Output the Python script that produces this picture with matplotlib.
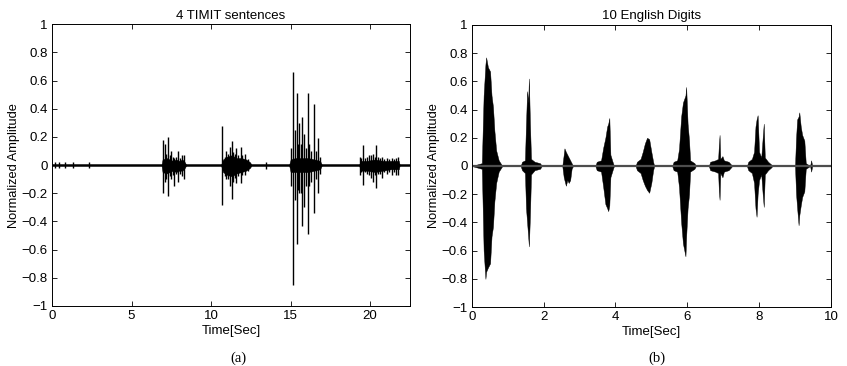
import matplotlib
matplotlib.use("Agg")
import matplotlib.pyplot as plt

plt.rcParams["font.family"] = ["Liberation Sans", "DejaVu Sans"]

# --- (a) 4 TIMIT sentences: envelope of the dense part of each burst ---
timit_t = [0.0, 6.88, 6.95, 7.2, 7.4, 7.6, 7.8, 8.0, 8.2, 8.35, 8.45,
           10.62, 10.75, 11.0, 11.3, 11.6, 11.9, 12.2, 12.45, 12.55,
           14.9, 15.0, 15.3, 15.7, 16.1, 16.5, 16.85, 16.97,
           19.3, 19.4, 19.8, 20.3, 20.8, 21.3, 21.8, 21.86, 22.5]
timit_hi = [0, 0, 0.04, 0.05, 0.04, 0.03, 0.04, 0.03, 0.04, 0.02, 0,
            0, 0.04, 0.06, 0.07, 0.05, 0.05, 0.04, 0.02, 0,
            0, 0.04, 0.05, 0.05, 0.05, 0.04, 0.03, 0,
            0, 0.03, 0.03, 0.04, 0.03, 0.03, 0.03, 0, 0]
timit_lo = [0, 0, -0.05, -0.06, -0.05, -0.04, -0.05, -0.04, -0.04, -0.02, 0,
            0, -0.05, -0.07, -0.08, -0.06, -0.05, -0.04, -0.02, 0,
            0, -0.05, -0.05, -0.05, -0.05, -0.04, -0.03, 0,
            0, -0.04, -0.04, -0.05, -0.04, -0.03, -0.03, 0, 0]

# individual peaks (time, top, bottom)
spike_t = [0.2, 0.45, 0.8, 1.35, 2.3,
           6.98, 7.08, 7.18, 7.29, 7.4, 7.5, 7.6, 7.67, 7.8, 7.92, 8.05, 8.18, 8.3,
           10.68, 10.85, 10.95, 11.05, 11.16, 11.3, 11.4, 11.5, 11.58, 11.7, 11.85,
           11.97, 12.13, 12.3, 13.48,
           15.02, 15.13, 15.25, 15.38, 15.47, 15.55, 15.64, 15.72, 15.86, 15.96, 16.07,
           16.17, 16.3, 16.45, 16.6, 16.74, 16.85,
           19.34, 19.45, 19.56, 19.7, 19.83, 19.95, 20.08, 20.2, 20.28, 20.36, 20.5,
           20.62, 20.74, 20.9, 21.06, 21.2, 21.35, 21.5, 21.63, 21.78]
spike_hi = [0.02, 0.02, 0.02, 0.02, 0.02,
            0.18, 0.15, 0.08, 0.20, 0.07, 0.10, 0.06, 0.05, 0.06, 0.10, 0.05, 0.07, 0.07,
            0.28, 0.06, 0.10, 0.08, 0.13, 0.17, 0.09, 0.08, 0.12, 0.07, 0.13,
            0.07, 0.08, 0.04, 0.025,
            0.12, 0.66, 0.25, 0.51, 0.15, 0.30, 0.15, 0.34, 0.22, 0.12, 0.51,
            0.15, 0.10, 0.43, 0.10, 0.19, 0.06,
            0.06, 0.05, 0.14, 0.05, 0.06, 0.07, 0.07, 0.08, 0.06, 0.14, 0.06,
            0.05, 0.06, 0.04, 0.05, 0.04, 0.05, 0.04, 0.05, 0.06]
spike_lo = [-0.02, -0.02, -0.02, -0.02, -0.02,
            -0.20, -0.12, -0.10, -0.22, -0.08, -0.10, -0.07, -0.15, -0.06, -0.12, -0.06, -0.08, -0.10,
            -0.28, -0.08, -0.10, -0.10, -0.15, -0.24, -0.12, -0.09, -0.13, -0.08, -0.13,
            -0.07, -0.07, -0.04, -0.025,
            -0.15, -0.85, -0.25, -0.56, -0.18, -0.20, -0.20, -0.43, -0.30, -0.15, -0.49,
            -0.15, -0.12, -0.34, -0.10, -0.20, -0.06,
            -0.07, -0.05, -0.14, -0.05, -0.06, -0.07, -0.09, -0.12, -0.07, -0.16, -0.06,
            -0.06, -0.09, -0.05, -0.06, -0.05, -0.07, -0.05, -0.07, -0.07]

# --- (b) 10 English digits: envelope ---
digit_t = [0.0, 0.28, 0.33, 0.38, 0.40, 0.45, 0.51, 0.55, 0.59, 0.63, 0.68, 0.75, 0.80, 0.85,
           1.36, 1.40, 1.48, 1.51, 1.54, 1.57, 1.59, 1.62, 1.65, 1.75, 1.90, 1.95,
           2.52, 2.56, 2.58, 2.62, 2.66, 2.70, 2.74, 2.78, 2.82,
           3.44, 3.48, 3.60, 3.66, 3.72, 3.77, 3.80, 3.83, 3.86, 3.92, 3.96,
           4.56, 4.60, 4.70, 4.76, 4.82, 4.88, 4.94, 5.00, 5.05, 5.08,
           5.58, 5.62, 5.72, 5.77, 5.83, 5.88, 5.95, 5.97, 6.01, 6.05, 6.08, 6.20, 6.24,
           6.60, 6.64, 6.78, 6.86, 6.88, 6.90, 6.92, 6.98, 7.02, 7.15, 7.22, 7.25,
           7.66, 7.70, 7.80, 7.86, 7.90, 7.93, 7.96, 8.00, 8.06, 8.10, 8.13, 8.16, 8.25, 8.34, 8.37,
           9.00, 9.03, 9.06, 9.10, 9.12, 9.16, 9.20, 9.26, 9.30, 9.42, 9.45, 9.48, 10.0]
digit_hi = [0, 0.02, 0.50, 0.72, 0.77, 0.70, 0.67, 0.50, 0.42, 0.25, 0.11, 0.04, 0.02, 0,
            0, 0.03, 0.04, 0.30, 0.53, 0.45, 0.62, 0.30, 0.05, 0.03, 0.02, 0,
            0, 0.08, 0.125, 0.10, 0.08, 0.06, 0.04, 0.02, 0,
            0, 0.03, 0.04, 0.13, 0.20, 0.28, 0.30, 0.34, 0.08, 0.03, 0,
            0, 0.03, 0.05, 0.10, 0.16, 0.20, 0.19, 0.10, 0.03, 0,
            0, 0.03, 0.04, 0.12, 0.35, 0.45, 0.50, 0.56, 0.30, 0.18, 0.04, 0.02, 0,
            0, 0.03, 0.04, 0.05, 0.15, 0.22, 0.05, 0.07, 0.04, 0.03, 0.01, 0,
            0, 0.03, 0.05, 0.10, 0.28, 0.33, 0.36, 0.10, 0.06, 0.20, 0.30, 0.06, 0.03, 0.01, 0,
            0, 0.20, 0.33, 0.35, 0.38, 0.28, 0.22, 0.18, 0.02, 0, 0.04, 0, 0]
digit_lo = [0, -0.02, -0.60, -0.80, -0.75, -0.72, -0.69, -0.50, -0.43, -0.25, -0.12, -0.04, -0.02, 0,
            0, -0.03, -0.05, -0.30, -0.40, -0.50, -0.57, -0.35, -0.06, -0.03, -0.02, 0,
            0, -0.08, -0.10, -0.14, -0.10, -0.12, -0.10, -0.02, 0,
            0, -0.03, -0.04, -0.15, -0.27, -0.30, -0.32, -0.28, -0.08, -0.03, 0,
            0, -0.03, -0.05, -0.10, -0.14, -0.17, -0.19, -0.12, -0.03, 0,
            0, -0.03, -0.04, -0.15, -0.40, -0.55, -0.64, -0.50, -0.30, -0.20, -0.04, -0.02, 0,
            0, -0.03, -0.04, -0.05, -0.18, -0.24, -0.05, -0.08, -0.04, -0.03, -0.01, 0,
            0, -0.03, -0.05, -0.12, -0.30, -0.36, -0.20, -0.10, -0.06, -0.20, -0.29, -0.06, -0.03, -0.01, 0,
            0, -0.20, -0.30, -0.42, -0.35, -0.28, -0.22, -0.18, -0.02, 0, -0.04, 0, 0]

yticks = [-1, -0.8, -0.6, -0.4, -0.2, 0, 0.2, 0.4, 0.6, 0.8, 1]
ytick_labels = ["\u22121", "\u22120.8", "\u22120.6", "\u22120.4", "\u22120.2", "0",
                "0.2", "0.4", "0.6", "0.8", "1"]
timit_xticks = [0, 5, 10, 15, 20]
digit_xticks = [0, 2, 4, 6, 8, 10]


def style_axes(ax, title, xticks, xmax):
    ax.set_xlim(0, xmax)
    ax.set_ylim(-1, 1)
    ax.set_xticks(xticks)
    ax.set_xticklabels([str(v) for v in xticks])
    ax.set_yticks(yticks)
    ax.set_yticklabels(ytick_labels)
    ax.tick_params(direction="in", top=True, right=True, length=3.5,
                   width=0.6, labelsize=9.5, pad=3)
    for s in ax.spines.values():
        s.set_linewidth(0.7)
    ax.set_title(title, fontsize=9.5, pad=4)
    ax.set_xlabel("Time[Sec]", fontsize=9.5, labelpad=2)
    ax.set_ylabel("Normalized Amplitude", fontsize=9.3, labelpad=1)


fig = plt.figure(figsize=(8.47, 3.66), dpi=100)

# (a)
ax1 = fig.add_axes([0.0614, 0.164, 0.4226, 0.770])
ax1.fill_between(timit_t, timit_lo, timit_hi, color="black", lw=0.3)
ax1.vlines(spike_t, spike_lo, spike_hi, color="black", lw=1.0)
ax1.axhline(0, color="black", lw=1.8)
style_axes(ax1, "4 TIMIT sentences", timit_xticks, 22.5)

# (b)
ax2 = fig.add_axes([0.557, 0.161, 0.424, 0.771])
ax2.axhline(0, color="0.3", lw=1.6)
ax2.fill_between(digit_t, digit_lo, digit_hi, color="black", lw=0.3)
style_axes(ax2, "10 English Digits", digit_xticks, 10)

fig.text(0.282, 0.022, "(a)", ha="center", va="center", fontsize=10.5,
         family="Liberation Serif")
fig.text(0.776, 0.022, "(b)", ha="center", va="center", fontsize=10.5,
         family="Liberation Serif")

fig.savefig("out.png", dpi=100)
